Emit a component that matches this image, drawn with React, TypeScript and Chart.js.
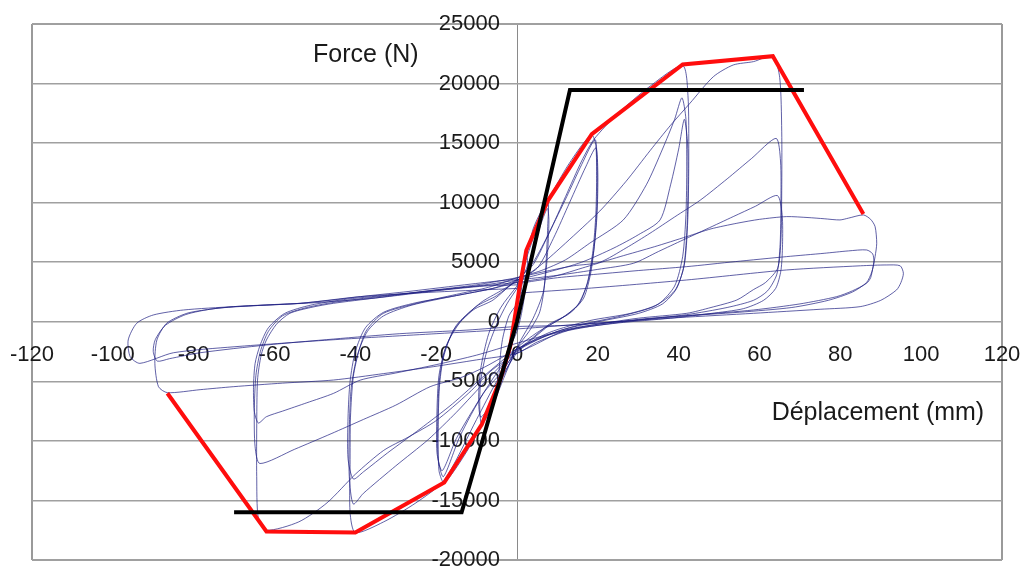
import React, { useEffect, useRef } from "react";
import { Chart, registerables } from "chart.js";

Chart.register(...registerables);

type Pt = [number, number];

// ---- axis / text content ----
const xAxisTitle = "Déplacement (mm)";
const yAxisTitle = "Force (N)";
const xMin = -120;
const xMax = 120;
const xStep = 20;
const yMin = -20000;
const yMax = 25000;
const yStep = 5000;

// ---- thick lines ----
const envelope: Pt[] = [
  [-86.5, -6000], [-62, -17600], [-40, -17700], [-18, -13500], [-8.7, -8600],
  [-4.2, -4900], [-1.7, -2100], [0.5, 2600], [2.3, 6000], [7.7, 10200],
  [18.5, 15750], [41, 21600], [63.3, 22300], [85.7, 9050],
];
const bilinear: Pt[] = [
  [-70, -16000], [-13.7, -16000], [0, 0], [13.1, 19450], [71, 19450],
];

// ---- hysteresis cycles (displacement mm, force N) ----
const cycle3: Pt[] = [
  [0, 0], [1, 2500], [2.3, 5800], [2.6, 5000], [2, 2500], [1, 500], [0, -800],
  [-1.5, -2000], [-3, -4000], [-4.2, -4900], [-4.4, -4000], [-3.6, -1500], [-2, 500], [0, 1500],
];
const cycle8a: Pt[] = [
  [0, 1500], [2, 5000], [4, 7800], [6, 9300], [7.7, 10200], [7.6, 8000], [7.2, 5000],
  [6.6, 2500], [5.5, 700], [3, -800], [0, -2200], [-3, -4500], [-6, -7000], [-8.7, -8600],
  [-9.2, -7500], [-9, -5000], [-7.5, -2500], [-5, -200], [-2.5, 1500], [0, 2800],
];
const cycle8b: Pt[] = [
  [0, 2800], [3, 5000], [5.5, 7800], [7.5, 9500], [7.9, 8500], [7.5, 5500], [6.5, 2500],
  [4, 300], [1, -1500], [0, -2200], [-4, -5000], [-7, -7200], [-9, -8000], [-9.5, -6500],
  [-9, -4000], [-7, -1000], [-4, 1200], [0, 3000],
];
const cycle20a: Pt[] = [
  [0, 3000], [3, 6000], [5.5, 8500], [7.7, 10200], [12, 12800], [16, 14800], [18.5, 15700],
  [19.5, 14800], [19.7, 12000], [19.5, 9000], [18.8, 6000], [17.5, 3400], [15.5, 1600],
  [12, 500], [8, -300], [4, -1400], [0, -2600], [-4, -4800], [-8.7, -8600], [-13, -11200],
  [-18, -13500], [-19.3, -12500], [-19.5, -9000], [-19.2, -5500], [-18.2, -3000],
  [-15.7, -700], [-10.8, 1000], [-5.9, 1830], [0, 3600],
];
const cycle20b: Pt[] = [
  [0, 3600], [4, 4800], [8, 7500], [12.3, 10500], [16, 13200], [19.3, 15300], [19.8, 13500],
  [19.8, 10000], [19.3, 7000], [18.3, 4200], [16.5, 2000], [13, 700], [8, -200], [3, -1600],
  [0, -2400], [-4, -4300], [-8.3, -6000], [-14.1, -9600], [-18.2, -13000], [-19.5, -11500],
  [-19.6, -8000], [-19.2, -4900], [-18, -2600], [-15, -300], [-10, 1300], [-5, 2200], [0, 3500],
];
const cycle20c: Pt[] = [
  [0, 3500], [5, 4500], [9, 7000], [13, 10000], [17, 13000], [19.5, 14600], [20, 12500],
  [19.8, 9000], [19, 6000], [17.5, 3300], [15, 1400], [11, 300], [5, -900], [0, -2200],
  [-5, -4300], [-10, -6900], [-15, -9800], [-18.5, -12500], [-19.8, -11000], [-19.8, -7500],
  [-19.3, -4500], [-17.5, -2000], [-14, 0], [-9, 1600], [-4, 2600], [0, 3400],
];
const cycle40a: Pt[] = [
  [0, 3400], [4, 5000], [8, 7500], [12, 10500], [16, 13500], [19, 15300], [25, 17500],
  [33, 19800], [41, 21500], [42.3, 19000], [42.5, 14000], [42.3, 9000], [41.5, 5000],
  [39.5, 2800], [36, 1500], [30, 700], [20, 0], [10, -800], [0, -2500], [-5, -5000],
  [-10, -8200], [-18, -13300], [-25, -15200], [-33, -16800], [-40, -17700], [-41.3, -16000],
  [-41.3, -12000], [-41.2, -8000], [-40.5, -4600], [-39, -2300], [-37.2, -700], [-33.1, 700],
  [-24.8, 1550], [-15, 2300], [-7, 2900], [0, 3700],
];
const cycle40b: Pt[] = [
  [0, 3700], [6, 4300], [12, 5200], [18, 6600], [26.3, 8550], [32, 11500], [36, 14500],
  [39, 17000], [40.8, 18800], [41.8, 17000], [42, 13000], [41.8, 9000], [41, 5500],
  [39, 3000], [35, 1500], [28, 700], [18, 100], [8, -900], [0, -2400], [-7.5, -4900],
  [-15, -7600], [-22, -9900], [-30, -12100], [-38, -14400], [-40.5, -15300], [-41.5, -13000],
  [-41.5, -9000], [-41, -5500], [-39.5, -2800], [-37, -800], [-33, 500], [-26, 1400],
  [-15, 2200], [-6, 2800], [0, 3500],
];
const cycle40c: Pt[] = [
  [0, 3500], [8, 4200], [16, 5000], [24, 6200], [30, 7300], [35.4, 8550], [38, 11500],
  [40, 14500], [41.4, 17000], [42.2, 15000], [42.3, 11000], [42, 7500], [41.2, 4500],
  [39, 2600], [34, 1300], [26, 500], [15, -300], [6, -1300], [0, -2300], [-8, -4500],
  [-16, -6900], [-24, -9000], [-32, -11000], [-38, -12600], [-40.5, -13200], [-41.8, -11500],
  [-41.8, -8000], [-41.3, -5000], [-40, -2500], [-37.5, -500], [-33, 800], [-25, 1600],
  [-15, 2200], [-6, 2800], [0, 3300],
];
const cycle60a: Pt[] = [
  [0, 3300], [6, 4800], [12, 6600], [20.5, 9300], [27, 11800], [33, 14400], [38, 16500],
  [42.8, 18350], [48.6, 20580], [53.5, 21560], [58.5, 21840], [63.3, 22300], [65, 20500],
  [65.5, 16000], [65.5, 11000], [65.3, 6870], [64.5, 4500], [61.5, 3300], [58.5, 2700],
  [54.4, 1830], [48, 1200], [42, 710], [30, 300], [20, -200], [12, -700], [4, -2000],
  [0, -2650], [-6, -4000], [-12, -6000], [-20, -8300], [-27, -9700], [-33, -10800],
  [-40, -12800], [-47, -15200], [-54, -16800], [-62, -17500], [-64, -16500], [-64.4, -13000],
  [-64.4, -9000], [-64.2, -4900], [-63.3, -2800], [-62, -1530], [-59.5, -200], [-56.2, 710],
  [-51, 1200], [-45.4, 1550], [-35, 2000], [-22, 2600], [-10, 3100], [0, 3700],
];
const cycle60b: Pt[] = [
  [0, 3700], [8, 4300], [14, 4700], [20.5, 5000], [27, 6200], [32.9, 7430], [39, 8800],
  [45.3, 10200], [52, 12000], [58, 13700], [64.1, 15400], [65.2, 13500], [65.3, 10000],
  [65.1, 6500], [64.3, 4000], [62, 2600], [58.5, 1800], [52, 1200], [42, 600], [30, 150],
  [18, -400], [8, -1100], [0, -2300], [-8, -3800], [-14, -4700], [-21.5, -5450],
  [-30, -7000], [-38, -8200], [-46, -9400], [-55, -10700], [-63.6, -11900], [-64.8, -10500],
  [-65, -7500], [-64.6, -4500], [-63.5, -2500], [-61.5, -800], [-58, 500], [-52, 1200],
  [-44, 1700], [-32, 2200], [-18, 2700], [-8, 3100], [0, 3500],
];
const cycle60c: Pt[] = [
  [0, 3500], [10, 3900], [20, 4400], [28.8, 4910], [35, 5900], [41.1, 6870], [47, 7800],
  [53.5, 8830], [59, 9700], [64.4, 10600], [65.6, 9000], [65.7, 6500], [65.3, 4300],
  [64, 2800], [61, 1800], [56, 1100], [48, 700], [38, 300], [25, -100], [12, -700],
  [0, -1800], [-10, -2800], [-20, -3600], [-30, -4300], [-38.8, -4900], [-45.4, -6010],
  [-52, -6800], [-58, -7500], [-62, -7970], [-64, -8500], [-65, -7500], [-65.2, -5500],
  [-64.8, -3500], [-63.6, -2000], [-61.5, -500], [-57.5, 700], [-51, 1400], [-42, 1900],
  [-30, 2300], [-16, 2800], [-6, 3100], [0, 3300],
];
const cycle88a: Pt[] = [
  [0, 3300], [9, 3800], [17, 4600], [25.5, 5470], [34, 6300], [42, 7150], [48, 7800],
  [54.4, 8270], [60, 8600], [66.7, 8830], [72, 8750], [76, 8650], [79.9, 8550], [82, 8700],
  [85.7, 8970], [87.5, 8600], [88.6, 7990], [89, 6590], [88.6, 5470], [88.1, 4630],
  [87.5, 3700], [86.5, 3230], [83, 2600], [79.1, 2110], [70, 1500], [58.5, 990], [45, 600],
  [30, 200], [15, -500], [5, -1700], [0, -2650], [-10, -3200], [-20.7, -3770], [-33, -4350],
  [-45.4, -4890], [-58, -5150], [-70.2, -5450], [-78.4, -5700], [-86.5, -5950],
  [-88.7, -5450], [-89.6, -3500], [-89.1, -1530], [-86.7, -130], [-81.7, 710], [-76, 1050],
  [-70.2, 1270], [-60, 1450], [-53.7, 1550], [-45, 1850], [-38.8, 2110], [-28, 2500],
  [-18, 2900], [-8, 3300], [0, 3600],
];
const cycle88b: Pt[] = [
  [0, 3200], [10, 3700], [20, 4000], [30, 4300], [42, 4630], [54, 5050], [66.7, 5470],
  [76, 5750], [82, 5950], [86.5, 6030], [88, 5700], [88.3, 5000], [87.8, 4200], [86.5, 3300],
  [83, 2500], [77, 1800], [68, 1200], [55, 800], [40, 450], [25, 0], [12, -300], [0, -400],
  [-12.4, -700], [-29, -1000], [-45.4, -1450], [-62, -1950], [-78.4, -2600], [-86, -3100],
  [-89, -3300], [-90, -2500], [-89.5, -1500], [-87, -300], [-82, 600], [-75, 1100],
  [-65, 1350], [-50, 1600], [-35, 2000], [-20, 2600], [-8, 3000], [0, 3100],
];
const cycle95: Pt[] = [
  [0, 2400], [17.2, 2800], [42, 3510], [66.7, 4350], [85, 4700], [91.5, 4770], [94.8, 4700],
  [95.6, 4070], [95, 3300], [93.9, 2670], [90, 1800], [84.9, 1270], [75, 1050], [58.5, 710],
  [40, 350], [20, -100], [0, -600], [-20, -1000], [-45, -1500], [-70, -2100], [-85, -2600],
  [-93.3, -3490], [-95.7, -2930], [-96.2, -1530], [-94.1, -130], [-90, 570], [-82.5, 990],
  [-70.2, 1270], [-53.7, 1550], [-38.8, 2110], [-20, 2500], [0, 2800],
];

const cycles: Pt[][] = [
  cycle3, cycle8a, cycle8b, cycle20a, cycle20b, cycle20c, cycle40a, cycle40b, cycle40c,
  cycle60a, cycle60b, cycle60c, cycle88a, cycle88b, cycle95,
];

const FONT = "Arial, 'Liberation Sans', sans-serif";
const toXY = (pts: Pt[]) => pts.map(([x, y]) => ({ x, y }));

const titlePlugin = {
  id: "axisTitles",
  afterDraw(chart: any) {
    const { ctx, scales } = chart;
    const xs = scales.x;
    const ys = scales.y;
    ctx.save();
    ctx.font = `25px ${FONT}`;
    ctx.fillStyle = "#1a1a1a";
    ctx.textAlign = "center";
    ctx.textBaseline = "middle";
    ctx.fillText(yAxisTitle, xs.getPixelForValue(-37.4), ys.getPixelForValue(22400));
    ctx.fillText(xAxisTitle, xs.getPixelForValue(89.3), ys.getPixelForValue(-7700));
    ctx.restore();
  },
};

export default function App() {
  const ref = useRef<HTMLCanvasElement | null>(null);
  useEffect(() => {
    if (!ref.current) return;
    const datasets: any[] = [
      {
        data: toXY(bilinear), borderColor: "#000000", borderWidth: 4, pointRadius: 0,
        showLine: true, tension: 0, borderJoinStyle: "miter",
      },
      {
        data: toXY(envelope), borderColor: "#ff0d0d", borderWidth: 4, pointRadius: 0,
        showLine: true, tension: 0, borderJoinStyle: "miter",
      },
      ...cycles.map((c) => ({
        data: toXY(c), borderColor: "rgba(30,30,130,0.7)", borderWidth: 1, pointRadius: 0,
        showLine: true, tension: 0.25,
      })),
    ];
    const chart = new Chart(ref.current, {
      type: "scatter",
      data: { datasets },
      plugins: [titlePlugin],
      options: {
        animation: false,
        responsive: true,
        maintainAspectRatio: false,
        layout: { padding: { left: 32, right: 21, top: 24, bottom: 8 } },
        plugins: { legend: { display: false }, tooltip: { enabled: false } },
        scales: {
          x: {
            type: "linear",
            min: xMin,
            max: xMax,
            position: { y: 0 } as any,
            ticks: {
              stepSize: xStep, autoSkip: false, maxRotation: 0, padding: 0,
              font: { size: 22, family: FONT }, color: "#1a1a1a",
              callback: (v: any) => String(v),
            },
            grid: {
              drawTicks: true,
              tickLength: 20,
              tickColor: "rgba(0,0,0,0)",
              color: (c: any) => (c.tick && (c.tick.value === 0 ? "#8a8a8a" : Math.abs(c.tick.value) === 120 ? "#9a9a9a" : "rgba(0,0,0,0)")),
              lineWidth: (c: any) => (c.tick && c.tick.value === 0 ? 1 : 2),
            },
            border: { display: false },
          },
          y: {
            type: "linear",
            min: yMin,
            max: yMax,
            position: { x: -4.2 } as any,
            ticks: {
              stepSize: yStep, padding: 0,
              font: { size: 22, family: FONT, lineHeight: 0.6 }, color: "#1a1a1a",
              callback: (v: any) => String(v),
            },
            grid: {
              drawTicks: false,
              color: "#a0a0a0",
              lineWidth: (c: any) => (c.tick && (c.tick.value === yMax || c.tick.value === yMin) ? 2 : 1.5),
            },
            border: { display: false },
          },
        },
      } as any,
    });
    return () => chart.destroy();
  }, []);
  return (
    <div style={{ position: "fixed", left: 0, top: 0, width: 1023, height: 568, background: "#fff" }}>
      <canvas ref={ref} style={{ display: "block" }} />
    </div>
  );
}
